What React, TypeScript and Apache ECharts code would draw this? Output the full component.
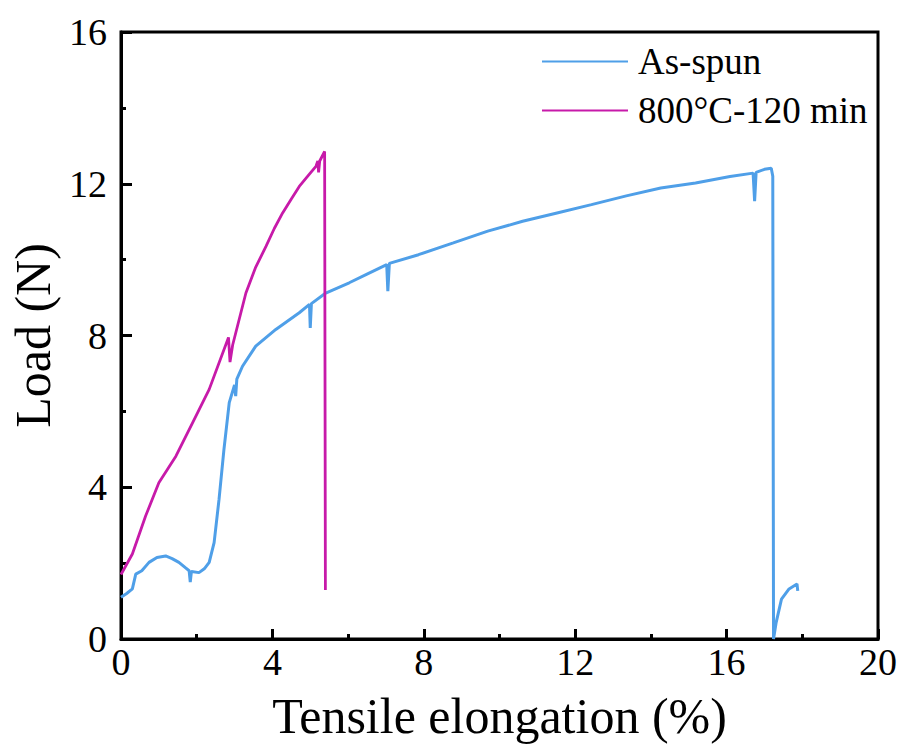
import React, { useEffect, useRef } from "react";
import * as echarts from "echarts";

const seriesNames = ["As-spun", "800°C-120 min"];

const asSpunX = [
  0.0, 0.15, 0.3, 0.39, 0.55, 0.74, 0.95, 1.18, 1.35, 1.53, 1.7, 1.8, 1.83, 1.86, 2.06, 2.2, 2.33,
  2.46, 2.59, 2.72, 2.86, 3.0, 3.03, 3.06, 3.21, 3.56, 4.09, 4.71, 4.98, 5.0, 5.03, 5.41, 6.03,
  6.5, 7.02, 7.05, 7.09, 7.86, 8.78, 9.69, 10.61, 11.52, 12.43, 13.35, 14.26, 15.18, 16.09, 16.7,
  16.74, 16.78, 17.0, 17.18, 17.22, 17.24, 17.31, 17.45, 17.65, 17.86, 17.88,
];
const asSpunY = [
  1.1, 1.2, 1.32, 1.71, 1.8, 2.02, 2.15, 2.19, 2.12, 2.02, 1.88, 1.8, 1.5, 1.78, 1.75, 1.85, 2.02,
  2.54, 3.68, 5.0, 6.23, 6.7, 6.4, 6.85, 7.19, 7.72, 8.16, 8.6, 8.82, 8.2, 8.84, 9.12, 9.39,
  9.62, 9.87, 9.17, 9.9, 10.13, 10.44, 10.75, 11.01, 11.23, 11.45, 11.68, 11.89, 12.02, 12.19, 12.28,
  11.54, 12.3, 12.38, 12.41, 12.2, 0.0, 0.44, 1.05, 1.32, 1.45, 1.27,
];

const annealedX = [
  0.0, 0.3, 0.65, 1.0, 1.45, 1.89, 2.33, 2.84, 2.88, 2.95, 3.3, 3.55, 3.83, 4.05, 4.27, 4.5, 4.71,
  4.95, 5.15, 5.2, 5.22, 5.25, 5.38, 5.4,
];
const annealedY = [
  1.7, 2.24, 3.24, 4.12, 4.82, 5.7, 6.58, 7.95, 7.3, 7.75, 9.12, 9.78, 10.35, 10.82, 11.23, 11.6,
  11.93, 12.22, 12.46, 12.6, 12.3, 12.6, 12.85, 1.29,
];

const xTicks = [0, 4, 8, 12, 16, 20];
const yTicks = [0, 4, 8, 12, 16];

const colors = ["#4f9fe8", "#c71aa9"];
const FONT = "Liberation Serif";

export default function App() {
  const ref = useRef<HTMLDivElement>(null);
  useEffect(() => {
    if (!ref.current) return;
    const chart = echarts.init(ref.current, undefined, { renderer: "svg" });
    const pairs = (xs: number[], ys: number[]) => xs.map((x, i) => [x, ys[i]]);
    chart.setOption({
      animation: false,
      backgroundColor: "#fff",
      textStyle: { fontFamily: FONT },
      grid: {
        left: 121,
        right: 25,
        top: 32,
        bottom: 106,
        show: true,
        borderColor: "#000",
        borderWidth: 3,
        containLabel: false,
      },
      legend: {
        orient: "vertical",
        left: 537,
        top: 38,
        itemWidth: 86,
        itemHeight: 14,
        itemGap: 12,
        icon: "path://M0,6 L86,6 L86,8 L0,8 Z",
        data: seriesNames,
        textStyle: {
          fontFamily: FONT,
          fontSize: 37,
          color: "#000",
          padding: [0, 0, 0, 5],
        },
      },
      xAxis: {
        type: "value",
        min: xTicks[0],
        max: xTicks[xTicks.length - 1],
        interval: 4,
        name: "Tensile elongation (%)",
        nameLocation: "middle",
        nameGap: 52,
        nameTextStyle: { fontFamily: FONT, fontSize: 50, color: "#000" },
        axisLine: { show: true, lineStyle: { color: "#000", width: 3 } },
        axisTick: { show: true, inside: true, length: 10, lineStyle: { color: "#000", width: 3 } },
        minorTick: { show: true, splitNumber: 2, length: 5, lineStyle: { color: "#000", width: 3 } },
        splitLine: { show: false },
        minorSplitLine: { show: false },
        axisLabel: { fontFamily: FONT, fontSize: 38, color: "#000", margin: 4 },
      },
      yAxis: {
        type: "value",
        min: yTicks[0],
        max: yTicks[yTicks.length - 1],
        interval: 4,
        name: "Load (N)",
        nameLocation: "middle",
        nameGap: 62,
        nameTextStyle: { fontFamily: FONT, fontSize: 50, color: "#000" },
        axisLine: { show: true, lineStyle: { color: "#000", width: 3 } },
        axisTick: { show: true, inside: true, length: 11, lineStyle: { color: "#000", width: 3 } },
        minorTick: { show: true, splitNumber: 2, length: 5, lineStyle: { color: "#000", width: 3 } },
        splitLine: { show: false },
        minorSplitLine: { show: false },
        axisLabel: { fontFamily: FONT, fontSize: 38, color: "#000", margin: 14 },
      },
      series: [
        {
          name: seriesNames[0],
          type: "line",
          data: pairs(asSpunX, asSpunY),
          showSymbol: false,
          symbol: "none",
          color: colors[0],
          lineStyle: { color: colors[0], width: 3 },
          z: 2,
        },
        {
          name: seriesNames[1],
          type: "line",
          data: pairs(annealedX, annealedY),
          showSymbol: false,
          symbol: "none",
          color: colors[1],
          lineStyle: { color: colors[1], width: 2.8 },
          z: 3,
        },
      ],
    });
    return () => chart.dispose();
  }, []);
  return (
    <div
      ref={ref}
      style={{ position: "fixed", left: 0, top: 0, width: 903, height: 746, background: "#fff" }}
    />
  );
}
